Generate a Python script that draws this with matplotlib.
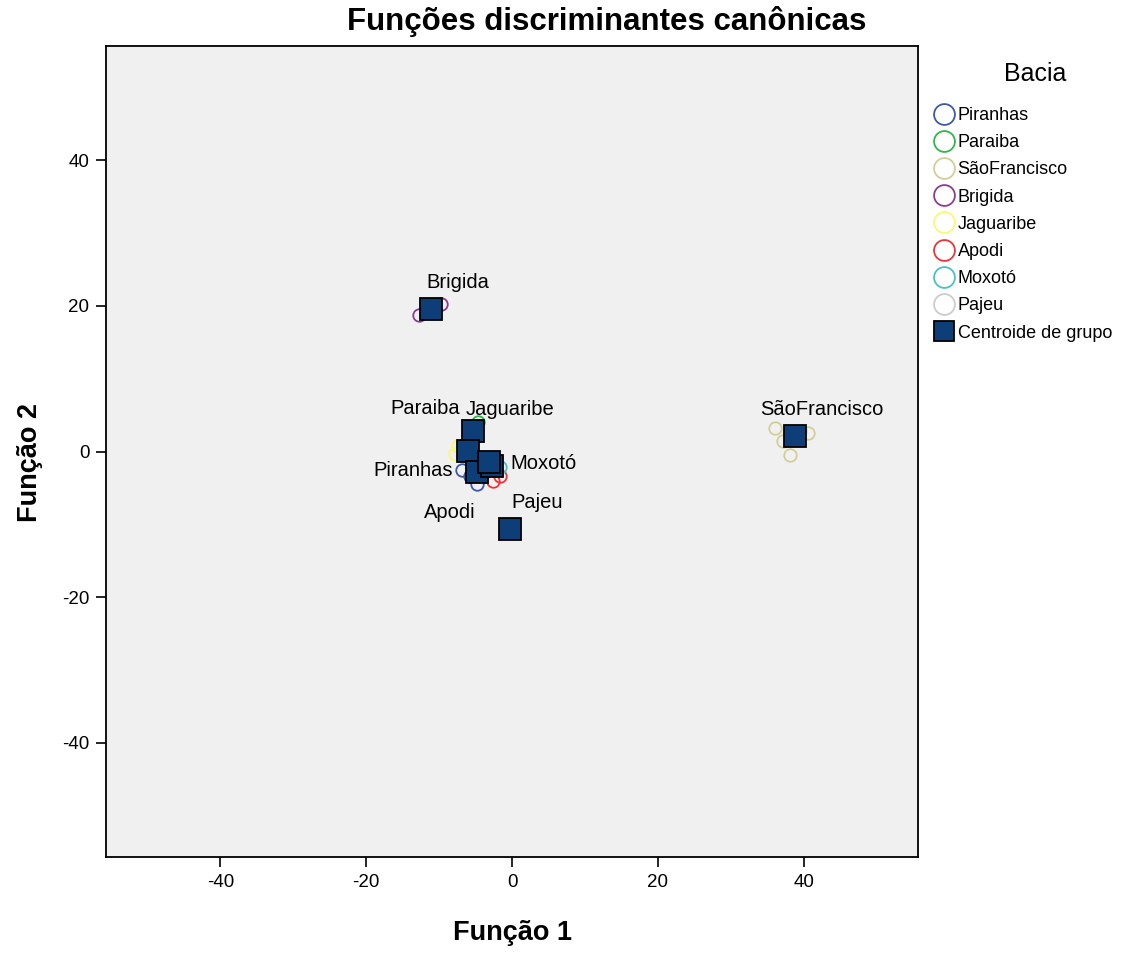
import matplotlib.pyplot as plt
from matplotlib.lines import Line2D

plt.rcParams['font.family'] = ['Liberation Sans', 'DejaVu Sans']
plt.rcParams['axes.unicode_minus'] = False

grupos = ['Piranhas', 'Paraiba', 'SãoFrancisco', 'Brigida', 'Jaguaribe', 'Apodi', 'Moxotó', 'Pajeu']
cores = ['#3E58AC', '#2EB848', '#D3CE97', '#8E3C92', '#FBF873', '#EF3338', '#48C2C5', '#CCCCCC']

# observacoes (funcao 1, funcao 2) por bacia
obs_x = {
    'Piranhas': [-6.9, -4.8, -5.8],
    'Paraiba': [-4.7, -5.6],
    'SãoFrancisco': [36.1, 40.6, 37.2, 38.1, 39.5],
    'Brigida': [-12.8, -9.7, -11.0],
    'Jaguaribe': [-7.8, -7.4],
    'Apodi': [-2.6, -1.6],
    'Moxotó': [-1.6, -2.4],
    'Pajeu': [-0.3, 0.2],
}
obs_y = {
    'Piranhas': [-2.6, -4.4, -3.4],
    'Paraiba': [4.1, 2.0],
    'SãoFrancisco': [3.2, 2.5, 1.4, -0.5, 2.8],
    'Brigida': [18.8, 20.3, 19.6],
    'Jaguaribe': [-0.3, 0.8],
    'Apodi': [-4.0, -3.4],
    'Moxotó': [-2.1, -1.0],
    'Pajeu': [-11.0, -10.5],
}

# centroides
cent_x = {'Piranhas': -4.8, 'Paraiba': -5.35, 'SãoFrancisco': 38.8, 'Brigida': -11.1,
          'Jaguaribe': -6.0, 'Apodi': -2.75, 'Moxotó': -3.15, 'Pajeu': -0.3}
cent_y = {'Piranhas': -2.75, 'Paraiba': 2.75, 'SãoFrancisco': 2.1, 'Brigida': 19.6,
          'Jaguaribe': 0.1, 'Apodi': -2.05, 'Moxotó': -1.4, 'Pajeu': -10.7}

# deslocamento dos rotulos (pixels)
rotulo_off = {'Piranhas': (-64, 1), 'Paraiba': (-48, 23), 'SãoFrancisco': (27, 27), 'Brigida': (27, 26),
              'Jaguaribe': (42, 41), 'Apodi': (-42, -46), 'Moxotó': (54, -2), 'Pajeu': (27, 27)}

fig = plt.figure(figsize=(11.48, 9.56), dpi=100)
ax = fig.add_axes([0.0923, 0.1035, 0.7074, 0.8484])
ax.set_facecolor('#F0F0F0')

for g, c in zip(grupos, cores):
    ax.plot(obs_x[g], obs_y[g], 'o', ms=9, mfc='none', mec=c, mew=1.3, ls='none')

order = ['Brigida', 'SãoFrancisco', 'Pajeu', 'Paraiba', 'Jaguaribe', 'Piranhas', 'Apodi', 'Moxotó']
for g in order:
    ax.plot(cent_x[g], cent_y[g], 's', ms=16, mfc='#0D3E78', mec='black', mew=1.3, ls='none')
for g in order:
    ax.annotate(g, (cent_x[g], cent_y[g]), xytext=rotulo_off[g], textcoords='offset pixels',
                ha='center', va='center', fontsize=14.5)

ax.set_xlim(-55.7, 55.7)
ax.set_ylim(-55.7, 55.7)
ax.set_xticks([-40, -20, 0, 20, 40])
ax.set_yticks([-40, -20, 0, 20, 40])
ax.tick_params(labelsize=13.5, length=7, width=1.2, direction='out', pad=5)
for s in ax.spines.values():
    s.set_linewidth(1.3)

fig.text(0.5287, 0.977, 'Funções discriminantes canônicas', fontsize=22.5, fontweight='bold',
         ha='center', va='center')
ax.set_xlabel('Função 1', fontsize=19.5, fontweight='bold')
ax.set_ylabel('Função 2', fontsize=19.5, fontweight='bold')
ax.xaxis.set_label_coords(0.5, -0.094)
ax.xaxis.label.set_va('center')
ax.yaxis.set_label_coords(-0.0936, 0.486)
ax.yaxis.label.set_va('center')

# legenda
fig.text(1035 / 1148, 1 - 74 / 956, 'Bacia', fontsize=18, ha='center', va='center')
handles = [Line2D([], [], marker='o', ms=15, mfc='none', mec=c, mew=1.3, ls='none') for c in cores]
handles.append(Line2D([], [], marker='s', ms=15, mfc='#0D3E78', mec='black', mew=1.3, ls='none'))
leg = fig.legend(handles, grupos + ['Centroide de grupo'], loc='upper left',
                 bbox_to_anchor=(0.8105, 0.8881), frameon=False, fontsize=13,
                 handletextpad=0.0, labelspacing=0.565, handlelength=1.5,
                 borderaxespad=0, borderpad=0)

fig.savefig('out.png', dpi=100)
